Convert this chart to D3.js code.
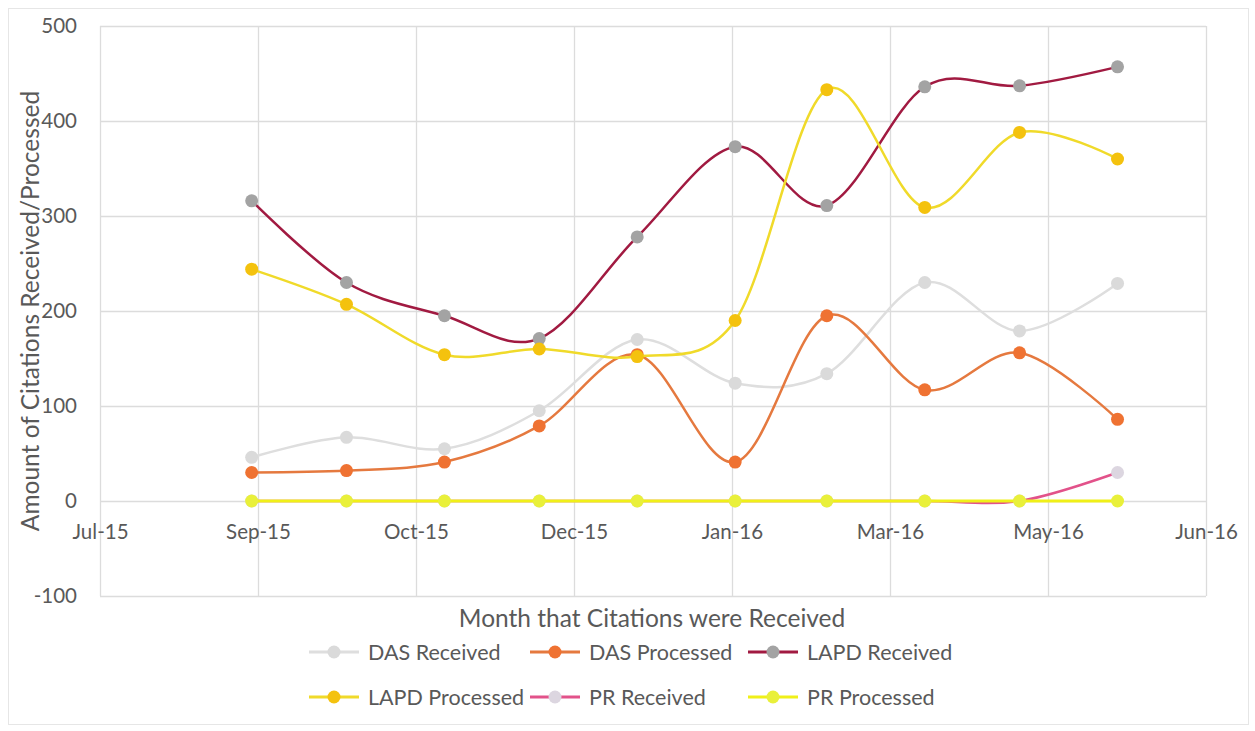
<!DOCTYPE html>
<html>
<head>
<meta charset="utf-8">
<script src="https://cdn.jsdelivr.net/npm/d3@7"></script>
<style>
  html, body { margin: 0; padding: 0; background: #fff; }
  svg { display: block; font-family: Lato, "Open Sans", sans-serif; }
</style>
</head>
<body>
<svg id="chart" width="1255" height="731"></svg>
<script>
"use strict";

/* months the citations were received (one point per month) */
const MONTHS = ["2015-09-01", "2015-10-01", "2015-11-01", "2015-12-01", "2016-01-01",
                "2016-02-01", "2016-03-01", "2016-04-01", "2016-05-01", "2016-06-01"];

const DAS_RECEIVED   = [46, 67, 55, 95, 170, 124, 134, 230, 179, 229];
const DAS_PROCESSED  = [30, 32, 41, 79, 154, 41, 195, 117, 156, 86];
const LAPD_RECEIVED  = [316, 230, 195, 171, 278, 373, 311, 436, 437, 457];
const LAPD_PROCESSED = [244, 207, 154, 160, 152, 190, 433, 309, 388, 360];
const PR_RECEIVED    = [0, 0, 0, 0, 0, 0, 0, 0, 0, 30];
const PR_PROCESSED   = [0, 0, 0, 0, 0, 0, 0, 0, 0, 0];

const SERIES_NAMES = ["DAS Received", "DAS Processed", "LAPD Received",
                      "LAPD Processed", "PR Received", "PR Processed"];

/* date axis: Excel-style 50-day major unit */
const X_START = "2015-07-15";
const X_STEP_DAYS = 50;
const X_TICK_COUNT = 8;
const Y_TICKS = [-100, 0, 100, 200, 300, 400, 500];

const STYLE = {
  "DAS Received":   { line: "#dedede", marker: "#dadada", width: 2.5 },
  "DAS Processed":  { line: "#e5793f", marker: "#ef7232", width: 2.5 },
  "LAPD Received":  { line: "#a11a41", marker: "#a3a3a3", width: 2.5 },
  "LAPD Processed": { line: "#f0da2a", marker: "#f4c20e", width: 2.5 },
  "PR Received":    { line: "#e2528a", marker: "#dcd6e0", width: 2.5 },
  "PR Processed":   { line: "#f0f018", marker: "#e9f03a", width: 3 }
};

const svg = d3.select("#chart");
const parse = d3.timeParse("%Y-%m-%d");
const dates = MONTHS.map(parse);
const values = [DAS_RECEIVED, DAS_PROCESSED, LAPD_RECEIVED, LAPD_PROCESSED, PR_RECEIVED, PR_PROCESSED];
const series = SERIES_NAMES.map((name, i) => ({
  name,
  points: dates.map((d, j) => ({ date: d, value: values[i][j] }))
}));

const xStart = parse(X_START);
const xTicks = d3.range(X_TICK_COUNT).map((i) => d3.timeDay.offset(xStart, i * X_STEP_DAYS));

const plot = { left: 100, right: 1206, top: 26, bottom: 596 };
const x = d3.scaleTime([xTicks[0], xTicks[xTicks.length - 1]], [plot.left, plot.right]);
const y = d3.scaleLinear([-100, 500], [plot.bottom, plot.top]);

/* chart border */
svg.append("rect")
  .attr("x", 8.5).attr("y", 8.5).attr("width", 1240).attr("height", 716)
  .attr("fill", "#fff").attr("stroke", "#e6e6e6");

/* gridlines */
const grid = svg.append("g").attr("stroke", "#dcdcdc").attr("stroke-width", 1.3);
grid.selectAll("line.h").data(Y_TICKS).join("line")
  .attr("x1", plot.left).attr("x2", plot.right)
  .attr("y1", (d) => Math.round(y(d)) + 0.5).attr("y2", (d) => Math.round(y(d)) + 0.5);
grid.selectAll("line.v").data(xTicks).join("line")
  .attr("y1", plot.top).attr("y2", plot.bottom)
  .attr("x1", (d) => Math.round(x(d)) + 0.5).attr("x2", (d) => Math.round(x(d)) + 0.5);

/* y axis labels */
const yAxis = svg.append("g")
  .attr("transform", `translate(${plot.left - 10},0)`)
  .call(d3.axisLeft(y).tickValues(Y_TICKS).tickSize(0).tickPadding(13).tickFormat((d) => String(d)));
yAxis.select(".domain").remove();
yAxis.selectAll("text")
  .attr("font-family", "Lato, 'Open Sans', sans-serif")
  .attr("font-size", 20.5).attr("fill", "#595959");

/* x axis labels sit at the zero line */
const xAxis = svg.append("g")
  .attr("transform", `translate(0,${y(0) + 20})`)
  .call(d3.axisBottom(x).tickValues(xTicks).tickSize(0).tickFormat(d3.timeFormat("%b-%y")));
xAxis.select(".domain").remove();
xAxis.selectAll("text")
  .attr("font-family", "Lato, 'Open Sans', sans-serif")
  .attr("font-size", 20.5).attr("fill", "#595959");

/* axis titles */
svg.append("text")
  .attr("transform", "translate(30.5,311) rotate(-90)")
  .attr("text-anchor", "middle").attr("dy", "0.35em")
  .attr("font-size", 24.5).attr("fill", "#595959")
  .text("Amount of Citations Received/Processed");

svg.append("text")
  .attr("x", 652).attr("y", 618).attr("dy", "0.35em")
  .attr("text-anchor", "middle")
  .attr("font-size", 24.5).attr("fill", "#595959")
  .text("Month that Citations were Received");

/* series lines + markers, Excel draw order */
const line = d3.line()
  .x((d) => x(d.date))
  .y((d) => y(d.value))
  .curve(d3.curveCatmullRom.alpha(0));

const seriesG = svg.append("g").selectAll("g").data(series).join("g");
seriesG.append("path")
  .attr("d", (s) => line(s.points))
  .attr("fill", "none")
  .attr("stroke", (s) => STYLE[s.name].line)
  .attr("stroke-width", (s) => STYLE[s.name].width)
  .attr("stroke-linejoin", "round");
seriesG.selectAll("circle").data((s) => s.points.map((p) => ({ ...p, name: s.name }))).join("circle")
  .attr("cx", (d) => x(d.date))
  .attr("cy", (d) => y(d.value))
  .attr("r", 6.5)
  .attr("fill", (d) => STYLE[d.name].marker);

/* legend */
const legendPos = [
  [309, 652], [530, 652], [748, 652],
  [309, 697], [530, 697], [748, 697]
];
const legend = svg.append("g").selectAll("g").data(SERIES_NAMES).join("g")
  .attr("transform", (d, i) => `translate(${legendPos[i][0]},${legendPos[i][1]})`);
legend.append("line")
  .attr("x1", 0).attr("x2", 50)
  .attr("stroke", (d) => STYLE[d].line)
  .attr("stroke-width", 3);
legend.append("circle")
  .attr("cx", 25).attr("r", 6.5)
  .attr("fill", (d) => STYLE[d].marker);
legend.append("text")
  .attr("x", 59).attr("dy", "0.35em")
  .attr("font-size", 21.5).attr("fill", "#595959")
  .text((d) => d);
</script>
</body>
</html>
